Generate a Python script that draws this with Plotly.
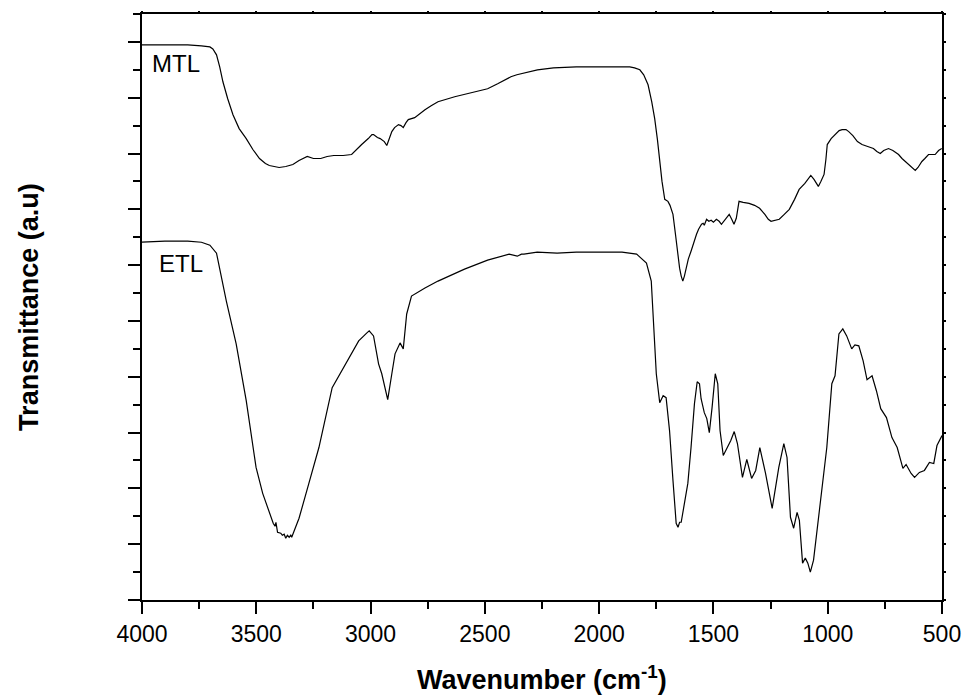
import plotly.graph_objects as go

# ---------------- data ----------------
wn_etl = [4000, 3900, 3800, 3740, 3703, 3674, 3631, 3588, 3544, 3522, 3501, 3472, 3443,
          3426, 3418, 3414, 3407, 3393, 3386, 3378, 3371, 3364, 3356, 3349, 3345,
          3313, 3270, 3226, 3168, 3110, 3052, 3016, 3006, 2987, 2965, 2951, 2925, 2907,
          2893, 2871, 2857, 2842, 2821, 2762, 2705, 2589, 2488, 2394, 2358, 2340, 2329,
          2271, 2184, 2100, 2000, 1900, 1836, 1793, 1772, 1764, 1757, 1750, 1735, 1720,
          1707, 1692, 1677, 1663, 1655, 1648, 1641, 1627, 1612, 1598, 1583, 1571, 1561,
          1554, 1540, 1529, 1518, 1506, 1492, 1481, 1471, 1457, 1438, 1424, 1409, 1395,
          1373, 1354, 1333, 1315, 1297, 1272, 1243, 1214, 1192, 1178, 1163, 1149, 1134,
          1124, 1110, 1098, 1087, 1076, 1062, 1055, 1033, 1004, 982, 968, 951, 934, 917,
          895, 881, 864, 845, 828, 806, 787, 768, 743, 719, 696, 671, 657, 635, 620, 599,
          577, 555, 536, 522, 507, 500]
t_etl = [359, 360, 360, 359, 356, 348, 300, 257, 200, 167, 133, 107, 87,
         77, 74, 78, 68, 67, 65, 66, 62, 65, 63, 65, 63,
         82, 117, 153, 213, 237, 260, 268, 270, 265, 237, 227, 201, 227,
         247, 258, 252, 287, 305, 313, 320, 332, 341, 347, 345, 347, 347,
         349, 348, 349, 349, 349, 347, 338, 320, 287, 253, 227, 198, 205,
         203, 170, 120, 77, 73, 78, 78, 97, 117, 153, 197, 219, 217,
         202, 188, 182, 168, 193, 227, 217, 170, 145, 153, 160, 169, 157,
         123, 141, 122, 130, 153, 127, 92, 133, 157, 143, 83, 72, 88,
         80, 37, 42, 37, 28, 40, 53, 100, 153, 217, 225, 267, 272, 265,
         252, 256, 255, 240, 221, 225, 210, 192, 183, 163, 153, 132, 136, 127, 123, 128,
         130, 138, 137, 155, 162, 165]

wn_mtl = [4000, 3900, 3800, 3740, 3703, 3690, 3674, 3660, 3646, 3625, 3602, 3575, 3544,
          3515, 3486, 3460, 3443, 3400, 3371, 3340, 3313, 3277, 3250, 3218, 3190, 3161,
          3120, 3083, 3066, 3039, 3010, 2994, 2987, 2970, 2958, 2940, 2929, 2918, 2907,
          2895, 2878, 2867, 2857, 2845, 2835, 2807, 2785, 2762, 2735, 2705, 2632, 2560,
          2488, 2444, 2386, 2360, 2328, 2270, 2200, 2100, 2000, 1900, 1866, 1845, 1822,
          1805, 1786, 1770, 1757, 1745, 1735, 1725, 1713, 1699, 1690, 1677, 1665, 1655,
          1648, 1641, 1634, 1627, 1620, 1610, 1598, 1585, 1574, 1565, 1552, 1545, 1540,
          1530, 1520, 1510, 1500, 1487, 1475, 1465, 1455, 1445, 1431, 1420, 1410, 1400,
          1388, 1370, 1344, 1320, 1298, 1275, 1260, 1248, 1230, 1212, 1190, 1168, 1145,
          1125, 1100, 1085, 1074, 1060, 1041, 1030, 1016, 1008, 1002, 985, 965, 950, 937,
          920, 908, 890, 870, 850, 825, 800, 785, 770, 755, 734, 715, 700, 690, 675, 661,
          645, 630, 617, 605, 588, 575, 559, 545, 530, 515, 501]
t_mtl = [557, 557, 557, 556, 555, 553, 547, 535, 520, 503, 487, 473, 463,
         452, 443, 438, 436, 434, 435, 437, 441, 445, 443, 443, 445, 446,
         446, 447, 451, 457, 463, 467, 467, 464, 463, 460, 456, 463, 470,
         474, 477, 476, 474, 479, 482, 484, 488, 492, 496, 500, 505, 509,
         513, 518, 525, 527, 529, 532, 534, 535, 535, 535, 535, 534, 532,
         527, 517, 500, 483, 462, 440, 420, 402, 400, 396, 387, 365, 345,
         333, 325, 320, 325, 333, 342, 350, 360, 367, 372, 377, 378, 376,
         382, 380, 381, 379, 382, 380, 377, 380, 383, 387, 382, 377, 383,
         400, 399, 398, 396, 393, 387, 382, 380, 381, 382, 387, 392, 402,
         412, 418, 422, 426, 422, 415, 420, 427, 442, 457, 463, 468, 471, 472,
         472, 470, 466, 460, 457, 455, 453, 450, 448, 451, 453, 451, 449, 447, 443, 440,
         437, 434, 431, 434, 440, 443, 447, 447, 447, 451, 453]

labels = ["MTL", "ETL"]
label_pos = [(3964, 538), (3935, 338)]

x_ticks = [4000, 3500, 3000, 2500, 2000, 1500, 1000, 500]
x_range = [4000, 500]
y_range = [0, 588]

FONT = "Arial, 'Liberation Sans', sans-serif"

fig = go.Figure()
for wn, t in [(wn_mtl, t_mtl), (wn_etl, t_etl)]:
    fig.add_trace(go.Scatter(x=wn, y=t, mode="lines",
                             line=dict(color="black", width=1.2),
                             showlegend=False, hoverinfo="skip"))

# invisible helper trace so the mirrored (top/right) axes get drawn
fig.add_trace(go.Scatter(x=[x_range[0]], y=[y_range[0]], mode="markers",
                         marker=dict(opacity=0), xaxis="x2", yaxis="y2",
                         showlegend=False, hoverinfo="skip"))

for name, (lx, ly) in zip(labels, label_pos):
    fig.add_annotation(x=lx, y=ly, text=name, showarrow=False,
                       xanchor="left", yanchor="middle",
                       font=dict(family=FONT, size=24, color="black"))

fig.add_annotation(xref="paper", yref="paper", x=0.5, y=-0.1327,
                   text="<b>Wavenumber (cm<sup>-1</sup>)</b>", showarrow=False,
                   xanchor="center", yanchor="middle",
                   font=dict(family=FONT, size=27, color="black"))
fig.add_annotation(xref="paper", yref="paper", x=-0.1414, y=0.5,
                   text="<b>Transmittance (a.u)</b>", showarrow=False,
                   textangle=-90, xanchor="center", yanchor="middle",
                   font=dict(family=FONT, size=27, color="black"))

fig.update_layout(
    width=973, height=696,
    margin=dict(l=142, r=25, t=12, b=96),
    paper_bgcolor="white", plot_bgcolor="white",
    font=dict(family=FONT, color="black"),
    xaxis=dict(range=x_range, tickvals=x_ticks, ticktext=[str(v) for v in x_ticks],
               ticks="outside", ticklen=12, tickwidth=2, tickcolor="black",
               minor=dict(dtick=250, tick0=0, ticks="outside", ticklen=7,
                          tickwidth=2, tickcolor="black"),
               showline=True, linewidth=2, linecolor="black", mirror=True,
               showgrid=False, zeroline=False,
               tickfont=dict(family=FONT, size=23, color="black")),
    yaxis=dict(range=y_range, tick0=0, dtick=56, showticklabels=False,
               ticks="outside", ticklen=12, tickwidth=2, tickcolor="black",
               minor=dict(dtick=28, tick0=0, ticks="outside", ticklen=7,
                          tickwidth=2, tickcolor="black"),
               showline=True, linewidth=2, linecolor="black", mirror=True,
               showgrid=False, zeroline=False),
    xaxis2=dict(range=x_range, overlaying="x", side="top", anchor="y",
                dtick=250, tick0=0, ticks="outside", ticklen=2, tickwidth=1.5,
                tickcolor="black", showticklabels=False, showgrid=False,
                zeroline=False, showline=False),
    yaxis2=dict(range=y_range, overlaying="y", side="right", anchor="x",
                dtick=28, tick0=0, ticks="outside", ticklen=3, tickwidth=1.5,
                tickcolor="black", showticklabels=False, showgrid=False,
                zeroline=False, showline=False),
)

fig.write_html("out.html")
